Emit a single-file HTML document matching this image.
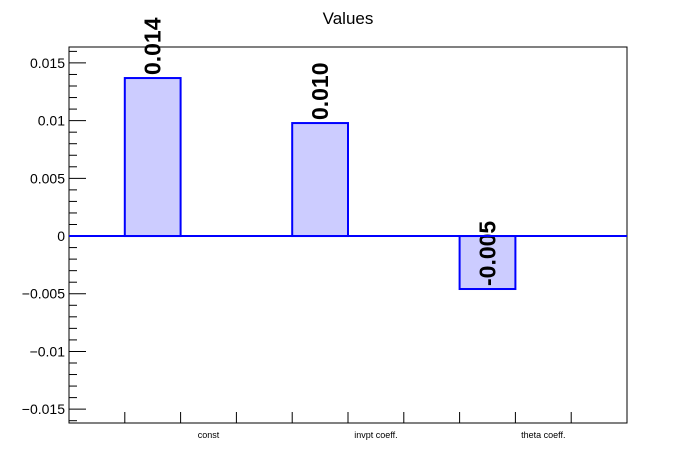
<!DOCTYPE html>
<html><head><meta charset="utf-8"><style>
html,body{margin:0;padding:0;background:#fff;}
svg{display:block;font-family:"Liberation Sans",sans-serif;}
</style></head><body>
<svg id="chart" width="696" height="472">
<text x="348" y="24" text-anchor="middle" font-size="17">Values</text>
</svg>
<script>
const categories = ["const", "invpt coeff.", "theta coeff."];
const values = [0.01369, 0.00979, -0.00459];
const valueLabels = ["0.014", "0.010", "-0.005"];
const yTicks = [-0.015, -0.01, -0.005, 0, 0.005, 0.01, 0.015];
const yTickLabels = ["\u22120.015", "\u22120.01", "\u22120.005", "0", "0.005", "0.01", "0.015"];

const svg = document.getElementById('chart');
const NS = 'http://www.w3.org/2000/svg';
const L = 69, R = 627, T = 47, B = 423;
const yMin = -0.0162, yMax = 0.01638;
const y = v => B - (v - yMin) / (yMax - yMin) * (B - T);
const div = (R - L) / 10;
const binW = div * 3;
const binStart = i => L + div + i * binW;

function mk(tag, attrs) {
  const e = document.createElementNS(NS, tag);
  for (const k in attrs) e.setAttribute(k, attrs[k]);
  svg.appendChild(e);
  return e;
}

const frame = mk('rect', {x: L, y: T, width: R - L, height: B - T, fill: 'none', stroke: '#000', 'stroke-width': 1});



for (let v = -0.016; v <= 0.0165; v += 0.001) {
  const vv = Math.round(v * 1000) / 1000;
  const major = Math.abs(Math.round(vv * 1000) % 5) === 0;
  const t = mk('line', {x1: L, x2: L + (major ? 17 : 8), y1: y(vv), y2: y(vv), stroke: '#000', 'stroke-width': 1});
  
  
}
yTicks.forEach((v, i) => {
  const t = mk('text', {x: L - 4, y: y(v) + 5, 'text-anchor': 'end', 'font-size': 14});
  t.textContent = yTickLabels[i];
  
  
});

for (let k = 1; k <= 10; k++) {
  const x = L + div * k;
  const t = mk('line', {x1: x, x2: x, y1: B, y2: B - 11, stroke: '#000', 'stroke-width': 1});
  
  
}

categories.forEach((c, i) => {
  const x0 = binStart(i);
  const v = values[i];
  const top = Math.min(y(v), y(0)), h = Math.abs(y(v) - y(0));
  const b = mk('rect', {x: x0, y: top, width: div, height: h, fill: '#ccccff', stroke: '#0000ff', 'stroke-width': 2});
  
  
  const lx = x0 + div / 2 + 8;
  const ly = y(v) - 3;
  const lab = mk('text', {x: lx, y: ly, 'font-size': 23, 'font-weight': 'bold', transform: `rotate(-90 ${lx} ${ly})`});
  lab.textContent = valueLabels[i];
  
  
  const cl = mk('text', {x: x0 + binW / 2, y: B + 15, 'text-anchor': 'middle', 'font-size': 9});
  cl.textContent = c;
  
  
});

const z = mk('line', {x1: L, x2: R, y1: y(0), y2: y(0), stroke: '#0000ff', 'stroke-width': 2});


</script>
</body></html>
